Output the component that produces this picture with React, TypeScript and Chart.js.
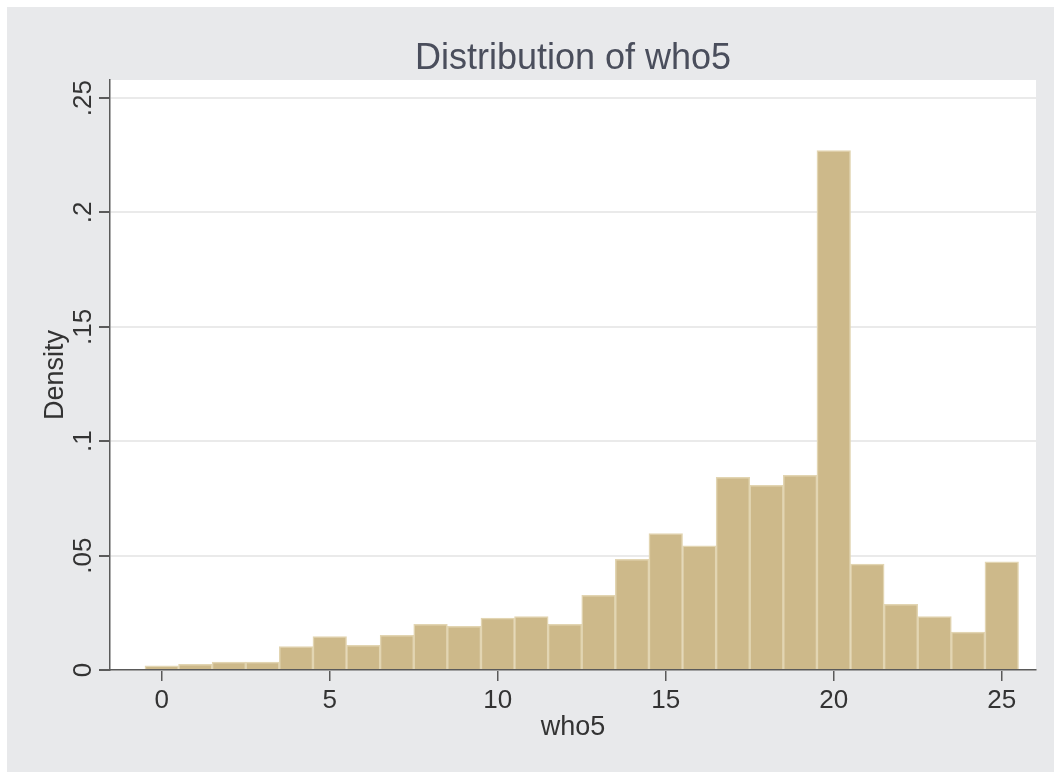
import { useEffect, useRef } from "react";
import { Chart, registerables } from "chart.js";

Chart.register(...registerables);

const BIN_CENTERS = [0, 1, 2, 3, 4, 5, 6, 7, 8, 9, 10, 11, 12, 13, 14, 15, 16, 17, 18, 19, 20, 21, 22, 23, 24, 25];
const DENSITY = [
  0.0018, 0.0025, 0.0035, 0.0035, 0.0102, 0.0146, 0.0108, 0.0152, 0.02, 0.0191,
  0.0227, 0.0233, 0.02, 0.0326, 0.0484, 0.0596, 0.0543, 0.0842, 0.0807, 0.0851,
  0.227, 0.0463, 0.0287, 0.0233, 0.0166, 0.0473,
];
const X_TICKS = [0, 5, 10, 15, 20, 25];
const X_TICK_LABELS = ["0", "5", "10", "15", "20", "25"];
const Y_TICKS = [0, 0.05, 0.1, 0.15, 0.2, 0.25];
const Y_TICK_LABELS = ["0", ".05", ".1", ".15", ".2", ".25"];
const TITLE = "Distribution of who5";
const X_TITLE = "who5";
const Y_TITLE = "Density";

const FONT = "'Liberation Sans', Arial, Helvetica, sans-serif";
const TEXT = "#333333";
const TITLE_COLOR = "rgb(74,78,92)";
const BG = "#e8e9eb";
const AXIS = "#5a5a5a";

export default function App() {
  const ref = useRef<HTMLCanvasElement | null>(null);

  useEffect(() => {
    const canvas = ref.current;
    if (!canvas) return;

    const decor = {
      id: "decor",
      beforeDraw(chart: any) {
        const { ctx, chartArea, width, height } = chart;
        ctx.save();
        ctx.fillStyle = "#ffffff";
        ctx.fillRect(0, 0, width, height);
        ctx.fillStyle = BG;
        ctx.fillRect(7, 7, width - 7, height - 7);
        ctx.fillStyle = "#ffffff";
        ctx.fillRect(chartArea.left, chartArea.top, chartArea.right - chartArea.left, chartArea.bottom - chartArea.top);
        ctx.restore();
      },
      afterDraw(chart: any) {
        const { ctx, chartArea } = chart;
        const y = chart.scales.y;
        ctx.save();
        ctx.fillStyle = TEXT;
        ctx.font = `26px ${FONT}`;
        ctx.textAlign = "center";
        ctx.textBaseline = "alphabetic";
        Y_TICKS.forEach((v, i) => {
          const py = y.getPixelForValue(v);
          ctx.save();
          ctx.translate(91, py);
          ctx.rotate(-Math.PI / 2);
          ctx.fillText(Y_TICK_LABELS[i], 0, 0);
          ctx.restore();
        });
        ctx.save();
        ctx.font = `27px ${FONT}`;
        ctx.translate(63, (chartArea.top + chartArea.bottom) / 2);
        ctx.rotate(-Math.PI / 2);
        ctx.fillText(Y_TITLE, 0, 0);
        ctx.restore();
        ctx.font = `27px ${FONT}`;
        ctx.fillText(X_TITLE, (chartArea.left + chartArea.right) / 2, 735);
        ctx.fillStyle = TITLE_COLOR;
        ctx.font = `36px ${FONT}`;
        ctx.fillText(TITLE, (chartArea.left + chartArea.right) / 2, 69);
        ctx.restore();
      },
    };

    const chart = new Chart(canvas, {
      type: "bar",
      data: {
        datasets: [
          {
            data: BIN_CENTERS.map((x, i) => ({ x, y: DENSITY[i] })),
            backgroundColor: "rgb(205,185,138)",
            borderColor: "rgb(226,213,178)",
            borderWidth: 1.5,
            borderSkipped: "start",
            barPercentage: 1,
            categoryPercentage: 1,
          } as any,
        ],
      },
      options: {
        responsive: false,
        animation: false,
        devicePixelRatio: 1,
        layout: { padding: { top: 80, right: 18, left: 0, bottom: 0 } },
        plugins: {
          legend: { display: false },
          tooltip: { enabled: false },
          title: { display: false },
        },
        scales: {
          x: {
            type: "linear",
            offset: false,
            min: -1.54,
            max: 26.02,
            afterBuildTicks: (s: any) => {
              s.ticks = X_TICKS.map((v) => ({ value: v }));
            },
            afterFit: (s: any) => {
              s.height = 102;
            },
            ticks: {
              font: { family: FONT, size: 26 },
              color: TEXT,
              padding: 4,
              maxRotation: 0,
              autoSkip: false,
              callback: (v: any) => {
                const i = X_TICKS.indexOf(Number(v));
                return i >= 0 ? X_TICK_LABELS[i] : "";
              },
            },
            grid: {
              offset: false,
              drawOnChartArea: false,
              drawTicks: true,
              tickLength: 11,
              tickColor: AXIS,
              lineWidth: 1.5,
            },
            border: { color: AXIS, width: 1.5 },
          },
          y: {
            type: "linear",
            min: 0,
            max: 0.2579,
            afterBuildTicks: (s: any) => {
              s.ticks = Y_TICKS.map((v) => ({ value: v }));
            },
            afterFit: (s: any) => {
              s.width = 110;
            },
            ticks: { display: false },
            grid: {
              color: "#eaeaea",
              lineWidth: 2,
              drawTicks: true,
              tickLength: 11,
              tickColor: AXIS,
            },
            border: { color: AXIS, width: 1.5 },
          },
        },
      } as any,
      plugins: [decor],
    });

    return () => chart.destroy();
  }, []);

  return (
    <div style={{ position: "absolute", left: 0, top: 0, width: 1054, height: 772 }}>
      <canvas ref={ref} width={1054} height={772} style={{ display: "block", width: 1054, height: 772 }} />
    </div>
  );
}
